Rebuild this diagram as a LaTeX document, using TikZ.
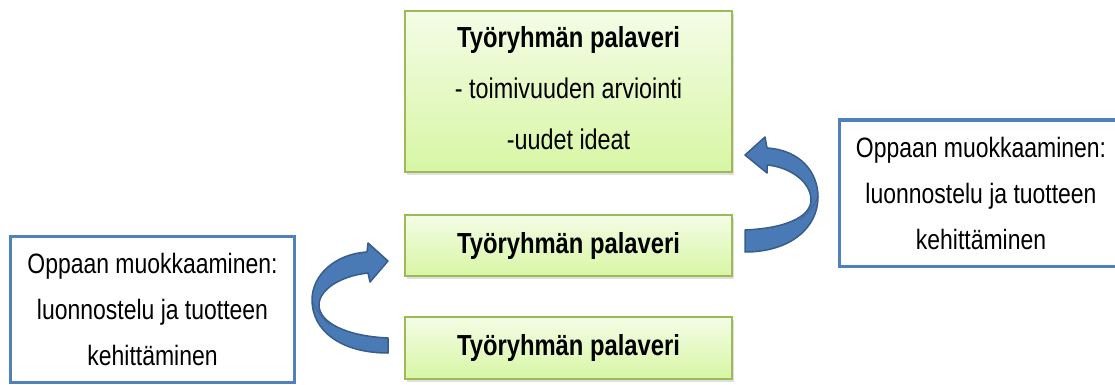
\documentclass[tikz,border=0pt]{standalone}
\usepackage{fontspec}
\setmainfont{Liberation Sans}[FakeStretch=0.82]
\usetikzlibrary{shadows}
\definecolor{gborder}{HTML}{9BBB59}
\definecolor{gtop}{HTML}{F4FCE6}
\definecolor{gbot}{HTML}{D7F6A4}
\definecolor{bborder}{HTML}{4F81BD}
\definecolor{afill}{HTML}{4A7AB5}
\definecolor{aline}{HTML}{385D8A}
\tikzset{
  gbox/.style={draw=gborder, line width=2.5pt, top color=gtop, bottom color=gbot,
    drop shadow={opacity=0.25, shadow xshift=2pt, shadow yshift=-3pt},
    minimum width=327pt, align=center, inner sep=0pt},
  bbox/.style={draw=bborder, line width=3pt, fill=white, minimum width=284pt,
    minimum height=146pt, align=center, inner sep=0pt,
    font=\fontsize{28pt}{46pt}\selectfont},
  barrow/.style={fill=afill, draw=aline, line width=1.5pt, line join=round}
}
\begin{document}
\begin{tikzpicture}[x=1pt,y=-1pt]
\useasboundingbox (0,0) rectangle (1115,385);
\clip (0,0) rectangle (1115,385);
\fill[white] (0,0) rectangle (1115,385);

% green boxes
\node[gbox, minimum height=161pt, font=\fontsize{28.5pt}{51pt}\selectfont] (top) at (568.5,91.5)
  {{\fontsize{29pt}{51pt}\selectfont\bfseries Työryhmän palaveri}\\- toimivuuden arviointi\\-uudet ideat\rule[-8pt]{0pt}{8pt}};
\node[gbox, minimum height=61pt, font=\fontsize{29pt}{35pt}\selectfont\bfseries] (mid) at (568.5,245.5) {Työryhmän palaveri};
\node[gbox, minimum height=62pt, font=\fontsize{29pt}{35pt}\selectfont\bfseries] (bot) at (568.5,348) {Työryhmän palaveri};

% blue boxes
\node[bbox] (left) at (152.5,309) {Oppaan muokkaaminen:\\luonnostelu ja tuotteen\\kehittäminen};
\node[bbox] (right) at (981,193) {Oppaan muokkaaminen:\\luonnostelu ja tuotteen\\kehittäminen};

% left curved arrow (from bottom box up to middle box)
\draw[barrow] (388,338) .. controls (345,336) and (319,322) .. (319,305)
  .. controls (319,290) and (340,276) .. (368,273)
  -- (370,282) -- (388,261) -- (368,243) -- (367,252)
  .. controls (335,254) and (312,275) .. (312,300)
  .. controls (312,330) and (340,353) .. (388,353) -- cycle;
\draw[aline, line width=1pt, opacity=0.6] (312,300) .. controls (316,310) and (322,318) .. (330,325);

% right curved arrow (from middle box up to top box)
\draw[barrow] (745,230) .. controls (790,228) and (811,215) .. (811,200)
  .. controls (811,182) and (790,167) .. (767,165)
  -- (767,173) -- (745,155) -- (765,137) -- (767,148)
  .. controls (800,150) and (818,172) .. (818,197)
  .. controls (818,228) and (790,252) .. (745,252) -- cycle;
\draw[aline, line width=1pt, opacity=0.6] (818,197) .. controls (814,206) and (808,214) .. (800,220);
\end{tikzpicture}
\end{document}
